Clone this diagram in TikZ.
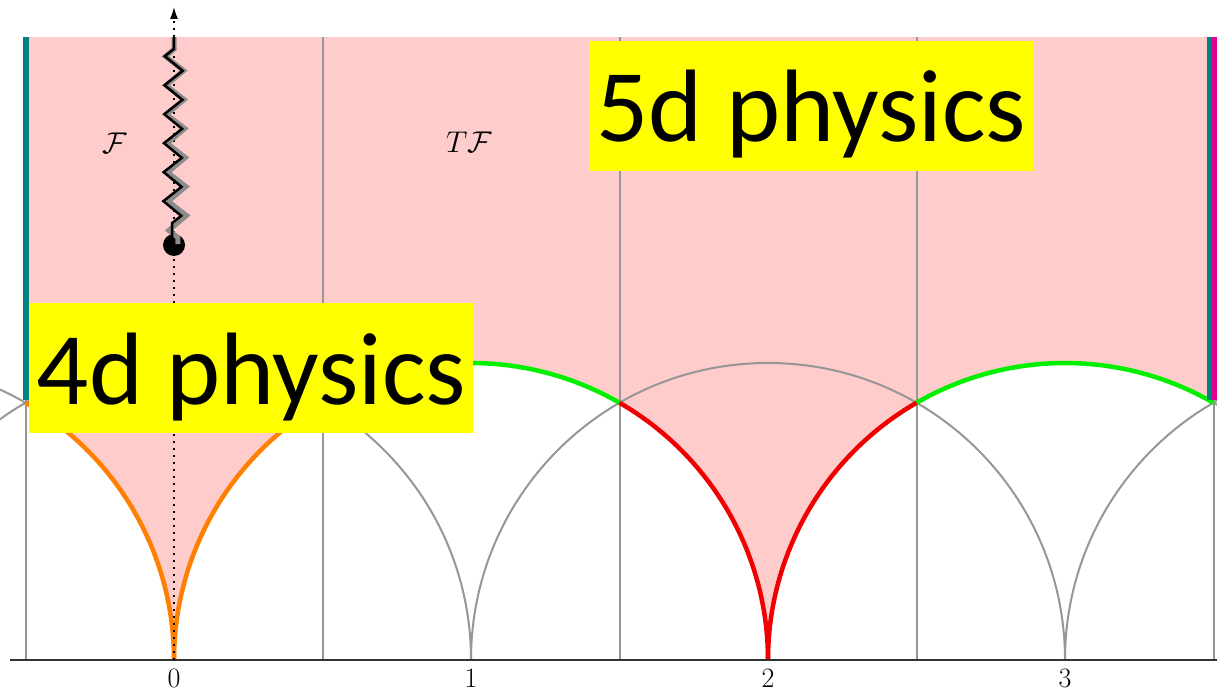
\documentclass[tikz,border=0pt]{standalone}
\usepackage{fix-cm}
\usepackage{fontspec}
\newfontfamily\carlito{Carlito}
\usetikzlibrary{decorations.pathmorphing,arrows.meta}
\definecolor{pinkfill}{RGB}{255,204,204}
\definecolor{tealc}{RGB}{0,128,128}
\definecolor{magc}{RGB}{228,0,140}
\definecolor{greenc}{RGB}{0,240,0}
\definecolor{redc}{RGB}{240,0,0}
\definecolor{orangec}{RGB}{255,128,0}
\definecolor{grayc}{RGB}{150,150,150}
\definecolor{axisc}{RGB}{50,50,50}
\definecolor{bannerc}{RGB}{255,255,0}
\begin{document}
\begin{tikzpicture}[x=297pt,y=297pt,
  gridline/.style={grayc,line width=2pt},
  bigarc/.style={line width=4.5pt},
  banner/.style={fill=bannerc,inner sep=0pt,minimum width=444pt,text height=101pt,text depth=29pt,font=\carlito\fontsize{103}{110}\selectfont},
  ticklabel/.style={anchor=base,inner sep=0pt,font=\fontsize{28}{30}\selectfont},
  cell/.style={inner sep=0pt,font=\fontsize{30}{32}\selectfont},
  snake/.style={decorate,decoration={zigzag,segment length=29pt,amplitude=-9pt,pre length=12pt,post length=4pt}}]
\useasboundingbox (-0.5859,-0.1145) rectangle (3.5118,2.2222);
\def\H{2.0976}
% pink region
\fill[pinkfill] (-0.5,\H) -- (-0.5,0.8660) arc[start angle=60,end angle=0,radius=1]
  arc[start angle=180,end angle=120,radius=1] arc[start angle=120,end angle=60,radius=1]
  arc[start angle=60,end angle=0,radius=1] arc[start angle=180,end angle=120,radius=1]
  arc[start angle=120,end angle=60,radius=1] -- (3.5,\H) -- cycle;
% vertical lines
\foreach \xx in {-0.5,0.5,1.5,2.5,3.5} \draw[gridline] (\xx,0) -- (\xx,\H);
% gray circles
\begin{scope}
\clip (-0.5859,0) rectangle (3.52,\H);
\foreach \c in {-1,0,1,2,3,4} \draw[gridline] (\c,0) circle[radius=1];
\end{scope}
% coloured arcs
\draw[bigarc,orangec] (0,0) arc[start angle=0,end angle=60,radius=1];
\draw[bigarc,orangec] (0,0) arc[start angle=180,end angle=120,radius=1];
\draw[bigarc,greenc] (0.5,0.8660) arc[start angle=120,end angle=60,radius=1];
\draw[bigarc,greenc] (2.5,0.8660) arc[start angle=120,end angle=60,radius=1];
\draw[bigarc,redc] (2,0) arc[start angle=0,end angle=60,radius=1];
\draw[bigarc,redc] (2,0) arc[start angle=180,end angle=120,radius=1];
% edge lines
\draw[tealc,line width=6pt] (-0.5,0.8760) -- (-0.5,\H);
\draw[tealc,line width=4.5pt] (3.4865,0.8760) -- (3.4865,\H);
\draw[magc,line width=5pt] (3.5025,0.8760) -- (3.5025,\H);
% baseline
\draw[axisc,line width=2pt] (-0.5522,0) -- (3.5118,0);
% dotted axis with arrow
\coordinate (origin) at (0,0);
\coordinate (top) at (0,2.1987);
\draw[line width=1.6pt,dash pattern=on 1.6pt off 5.4pt,-{Latex[length=12pt,width=8pt]}] (origin) -- (top);
% branch cut
\coordinate (cuttop) at (0,\H);
\node[circle,fill=black,inner sep=0pt,minimum size=22pt] (branch) at (0,1.3973) {};
\draw[snake,black!45,line width=5pt,xshift=4pt,yshift=-3pt] (cuttop) -- (0,1.41);
\draw[snake,black,line width=2.5pt,xshift=-2pt] (cuttop) -- (0,1.41);
% labels
\node[cell] (F) at (-0.2003,1.741) {$\mathcal{F}$};
\node[cell] (TF) at (0.9933,1.742) {$T\mathcal{F}$};
\foreach \n in {0,1,2,3} \node[ticklabel] (tick\n) at (\n,-0.0943) {\n};
% banners
\node[banner] (five) at (2.1458,1.8653) {5d physics};
\node[banner] (four) at (0.2609,0.9815) {4d physics};
\end{tikzpicture}
\end{document}
